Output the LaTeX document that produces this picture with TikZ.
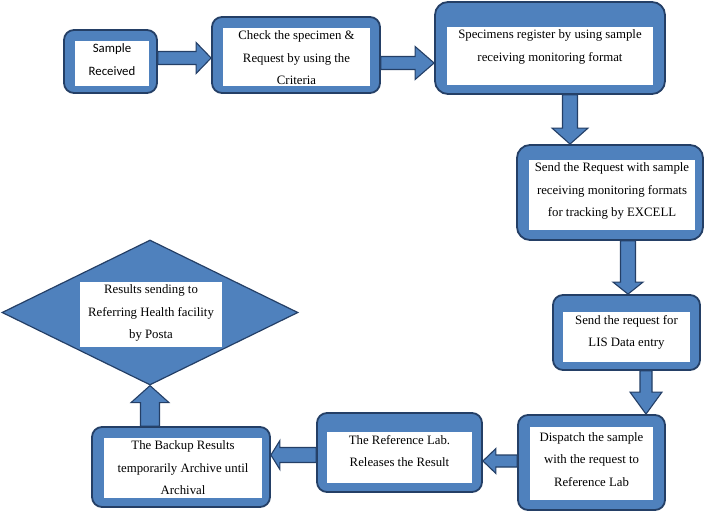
\documentclass[tikz,border=0pt]{standalone}
\usepackage{fontspec}
\setmainfont{Liberation Serif}
\newfontfamily\boxsans{Carlito}
\usetikzlibrary{calc,shapes.geometric}

\definecolor{flowblue}{HTML}{4F81BD}
\definecolor{flowedge}{HTML}{243F66}

\tikzset{
  stage/.style={draw=flowedge, fill=flowblue, line width=1.8pt, rounded corners=10pt, inner sep=0pt},
  panel/.style={fill=white, inner sep=0pt},
  steptext/.style={anchor=north, inner sep=0pt, yshift=-3pt, align=center,
    font=\fontsize{12.8}{22.5}\selectfont},
  flowline/.style={draw=flowedge, fill=flowblue, line width=1.1pt, line join=miter}
}

% #1 shaft half width, #2 head half width, #3 head length, #4 from, #5 to
\newcommand{\flowarrow}[5]{%
  \coordinate (fa-h) at ($(#5)!#3pt!(#4)$);
  \draw[flowline]
    ($(#4)!#1pt!90:(#5)$) -- ($(fa-h)!#1pt!90:(#5)$) --
    ($(fa-h)!#2pt!90:(#5)$) -- (#5) --
    ($(fa-h)!#2pt!-90:(#5)$) -- ($(fa-h)!#1pt!-90:(#5)$) --
    ($(#4)!#1pt!-90:(#5)$) -- cycle;}

\begin{document}
\begin{tikzpicture}[x=1pt, y=-1pt]
\useasboundingbox (0,0) rectangle (709,511);

% boxes
\node[stage, minimum width=93pt, minimum height=63pt] (s1) at (110.5,61.5) {};
\node[panel, minimum width=74pt, minimum height=45pt] (s1-p) at (112,63.5) {};
\node[steptext, font=\boxsans\fontsize{12.8}{23}\selectfont] (s1-t) at (s1-p.north) {Sample\\Received};

\node[stage, minimum width=168pt, minimum height=76pt] (s2) at (296,55) {};
\node[panel, minimum width=147pt, minimum height=58pt] (s2-p) at (296.5,57) {};
\node[steptext] (s2-t) at (s2-p.north) {Check the specimen \&\\Request by using the\\Criteria};

\node[stage, minimum width=230pt, minimum height=92pt, rounded corners=13pt] (s3) at (550,48) {};
\node[panel, minimum width=206pt, minimum height=58pt] (s3-p) at (550,56) {};
\node[steptext] (s3-t) at (s3-p.north) {Specimens register by using sample\\receiving monitoring format};

\node[stage, minimum width=186pt, minimum height=95pt, rounded corners=13pt] (s4) at (610,192.5) {};
\node[panel, minimum width=166pt, minimum height=70pt] (s4-p) at (612,195) {};
\node[steptext] (s4-t) at (s4-p.north) {Send the Request with sample\\receiving monitoring formats\\for tracking by EXCELL};

\node[stage, minimum width=147pt, minimum height=75pt] (s5) at (626.5,332.5) {};
\node[panel, minimum width=127pt, minimum height=50pt] (s5-p) at (626.5,337) {};
\node[steptext] (s5-t) at (s5-p.north) {Send the request for\\LIS Data entry};

\node[stage, minimum width=147pt, minimum height=95pt] (s6) at (591.5,462.5) {};
\node[panel, minimum width=123pt, minimum height=73pt] (s6-p) at (591.5,463.5) {};
\node[steptext, yshift=-2.5pt] (s6-t) at (s6-p.north) {Dispatch the sample\\with the request to\\Reference Lab};

\node[stage, minimum width=165pt, minimum height=79pt] (s7) at (399.5,452.5) {};
\node[panel, minimum width=145pt, minimum height=51pt] (s7-p) at (399.5,457.5) {};
\node[steptext] (s7-t) at (s7-p.north) {The Reference Lab.\\Releases the Result};

\node[stage, minimum width=178pt, minimum height=80pt] (s8) at (181,467) {};
\node[panel, minimum width=158pt, minimum height=60pt] (s8-p) at (183,468) {};
\node[steptext] (s8-t) at (s8-p.north) {The Backup Results\\temporarily Archive until\\Archival};

\node[diamond, draw=flowedge, fill=flowblue, line width=1.2pt, inner sep=0pt,
  minimum width=296pt, minimum height=145pt] (d9) at (150,312.5) {};
\node[panel, minimum width=142pt, minimum height=65pt] (d9-p) at (151,314.5) {};
\node[steptext] (d9-t) at (d9-p.north) {Results sending to\\Referring Health facility\\by Posta};

% arrows
\coordinate (a1) at ([yshift=3.5pt]s1.east);
\coordinate (b1) at (a1 -| s2.west);
\coordinate (a2) at ([yshift=-8pt]s2.east);
\coordinate (b2) at (a2 -| s3.west);
\coordinate (a3) at ([xshift=20pt]s3.south);
\coordinate (b3) at (a3 |- s4.north);
\coordinate (a4) at ([xshift=18pt]s4.south);
\coordinate (b4) at (a4 |- s5.north);
\coordinate (a5) at ([xshift=19.5pt]s5.south);
\coordinate (b5) at (a5 |- s6.north);
\coordinate (a6) at ([yshift=1.5pt]s6.west);
\coordinate (b6) at (a6 -| s7.east);
\coordinate (a7) at ([yshift=-2.5pt]s7.west);
\coordinate (b7) at (a7 -| s8.east);
\coordinate (a8) at (d9.south |- s8.north);

\flowarrow{6.5}{15.5}{15}{a1}{b1}
\flowarrow{6.5}{16.5}{19}{a2}{b2}
\flowarrow{7.5}{18}{16}{a3}{b3}
\flowarrow{7.5}{15}{12}{a4}{b4}
\flowarrow{6}{16}{22}{a5}{b5}
\flowarrow{6}{12.5}{13}{a6}{b6}
\flowarrow{7.5}{14.5}{9}{a7}{b7}
\flowarrow{9.5}{19}{17}{a8}{d9.south}
\end{tikzpicture}
\end{document}
